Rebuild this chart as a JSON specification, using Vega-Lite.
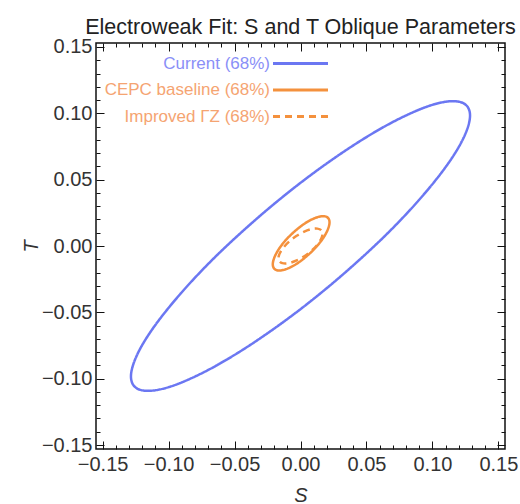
{
  "$schema": "https://vega.github.io/schema/vega-lite/v6.json",
  "width": 409,
  "height": 406,
  "autosize": {"type": "none"},
  "padding": {"left": 96, "top": 43, "right": 15, "bottom": 55},
  "background": "#ffffff",
  "title": {
    "text": "Electroweak Fit: S and T Oblique Parameters",
    "font": "Liberation Sans",
    "fontSize": 21.5,
    "fontWeight": "normal",
    "color": "#222222",
    "anchor": "middle",
    "baseline": "alphabetic",
    "offset": -19
  },
  "config": {
    "view": {"stroke": "#111111", "strokeWidth": 1.5},
    "font": "Liberation Sans"
  },
  "data": {
    "values": [
      {"series": "Current (68%)", "i": 0, "S": 0.1285, "T": 0.0983},
      {"series": "Current (68%)", "i": 1, "S": 0.1265, "T": 0.1051},
      {"series": "Current (68%)", "i": 2, "S": 0.1208, "T": 0.1086},
      {"series": "Current (68%)", "i": 3, "S": 0.1113, "T": 0.1089},
      {"series": "Current (68%)", "i": 4, "S": 0.0984, "T": 0.1059},
      {"series": "Current (68%)", "i": 5, "S": 0.0826, "T": 0.0996},
      {"series": "Current (68%)", "i": 6, "S": 0.0643, "T": 0.0904},
      {"series": "Current (68%)", "i": 7, "S": 0.0439, "T": 0.0783},
      {"series": "Current (68%)", "i": 8, "S": 0.0223, "T": 0.0639},
      {"series": "Current (68%)", "i": 9, "S": 0.0, "T": 0.0476},
      {"series": "Current (68%)", "i": 10, "S": -0.0223, "T": 0.0298},
      {"series": "Current (68%)", "i": 11, "S": -0.0439, "T": 0.0111},
      {"series": "Current (68%)", "i": 12, "S": -0.0643, "T": -0.0079},
      {"series": "Current (68%)", "i": 13, "S": -0.0826, "T": -0.0267},
      {"series": "Current (68%)", "i": 14, "S": -0.0984, "T": -0.0447},
      {"series": "Current (68%)", "i": 15, "S": -0.1113, "T": -0.0613},
      {"series": "Current (68%)", "i": 16, "S": -0.1208, "T": -0.0761},
      {"series": "Current (68%)", "i": 17, "S": -0.1265, "T": -0.0885},
      {"series": "Current (68%)", "i": 18, "S": -0.1285, "T": -0.0983},
      {"series": "Current (68%)", "i": 19, "S": -0.1265, "T": -0.1051},
      {"series": "Current (68%)", "i": 20, "S": -0.1208, "T": -0.1086},
      {"series": "Current (68%)", "i": 21, "S": -0.1113, "T": -0.1089},
      {"series": "Current (68%)", "i": 22, "S": -0.0984, "T": -0.1059},
      {"series": "Current (68%)", "i": 23, "S": -0.0826, "T": -0.0996},
      {"series": "Current (68%)", "i": 24, "S": -0.0643, "T": -0.0904},
      {"series": "Current (68%)", "i": 25, "S": -0.0439, "T": -0.0783},
      {"series": "Current (68%)", "i": 26, "S": -0.0223, "T": -0.0639},
      {"series": "Current (68%)", "i": 27, "S": 0.0, "T": -0.0476},
      {"series": "Current (68%)", "i": 28, "S": 0.0223, "T": -0.0298},
      {"series": "Current (68%)", "i": 29, "S": 0.0439, "T": -0.0111},
      {"series": "Current (68%)", "i": 30, "S": 0.0643, "T": 0.0079},
      {"series": "Current (68%)", "i": 31, "S": 0.0826, "T": 0.0267},
      {"series": "Current (68%)", "i": 32, "S": 0.0984, "T": 0.0447},
      {"series": "Current (68%)", "i": 33, "S": 0.1113, "T": 0.0613},
      {"series": "Current (68%)", "i": 34, "S": 0.1208, "T": 0.0761},
      {"series": "Current (68%)", "i": 35, "S": 0.1265, "T": 0.0885},
      {"series": "CEPC baseline (68%)", "i": 0, "S": 0.0220, "T": 0.0178},
      {"series": "CEPC baseline (68%)", "i": 1, "S": 0.0207, "T": 0.0213},
      {"series": "CEPC baseline (68%)", "i": 2, "S": 0.0170, "T": 0.0225},
      {"series": "CEPC baseline (68%)", "i": 3, "S": 0.0113, "T": 0.0212},
      {"series": "CEPC baseline (68%)", "i": 4, "S": 0.0042, "T": 0.0176},
      {"series": "CEPC baseline (68%)", "i": 5, "S": -0.0032, "T": 0.0121},
      {"series": "CEPC baseline (68%)", "i": 6, "S": -0.0103, "T": 0.0054},
      {"series": "CEPC baseline (68%)", "i": 7, "S": -0.0160, "T": -0.0017},
      {"series": "CEPC baseline (68%)", "i": 8, "S": -0.0197, "T": -0.0084},
      {"series": "CEPC baseline (68%)", "i": 9, "S": -0.0210, "T": -0.0138},
      {"series": "CEPC baseline (68%)", "i": 10, "S": -0.0197, "T": -0.0173},
      {"series": "CEPC baseline (68%)", "i": 11, "S": -0.0160, "T": -0.0185},
      {"series": "CEPC baseline (68%)", "i": 12, "S": -0.0103, "T": -0.0172},
      {"series": "CEPC baseline (68%)", "i": 13, "S": -0.0032, "T": -0.0136},
      {"series": "CEPC baseline (68%)", "i": 14, "S": 0.0042, "T": -0.0081},
      {"series": "CEPC baseline (68%)", "i": 15, "S": 0.0113, "T": -0.0014},
      {"series": "CEPC baseline (68%)", "i": 16, "S": 0.0170, "T": 0.0057},
      {"series": "CEPC baseline (68%)", "i": 17, "S": 0.0207, "T": 0.0124},
      {"series": "Improved ΓZ (68%)", "i": 0, "S": 0.0167, "T": 0.0092},
      {"series": "Improved ΓZ (68%)", "i": 1, "S": 0.0157, "T": 0.0119},
      {"series": "Improved ΓZ (68%)", "i": 2, "S": 0.0128, "T": 0.0131},
      {"series": "Improved ΓZ (68%)", "i": 3, "S": 0.0084, "T": 0.0128},
      {"series": "Improved ΓZ (68%)", "i": 4, "S": 0.0029, "T": 0.0109},
      {"series": "Improved ΓZ (68%)", "i": 5, "S": -0.0029, "T": 0.0077},
      {"series": "Improved ΓZ (68%)", "i": 6, "S": -0.0084, "T": 0.0035},
      {"series": "Improved ΓZ (68%)", "i": 7, "S": -0.0128, "T": -0.0010},
      {"series": "Improved ΓZ (68%)", "i": 8, "S": -0.0157, "T": -0.0055},
      {"series": "Improved ΓZ (68%)", "i": 9, "S": -0.0167, "T": -0.0092},
      {"series": "Improved ΓZ (68%)", "i": 10, "S": -0.0157, "T": -0.0119},
      {"series": "Improved ΓZ (68%)", "i": 11, "S": -0.0128, "T": -0.0131},
      {"series": "Improved ΓZ (68%)", "i": 12, "S": -0.0084, "T": -0.0128},
      {"series": "Improved ΓZ (68%)", "i": 13, "S": -0.0029, "T": -0.0109},
      {"series": "Improved ΓZ (68%)", "i": 14, "S": 0.0029, "T": -0.0077},
      {"series": "Improved ΓZ (68%)", "i": 15, "S": 0.0084, "T": -0.0035},
      {"series": "Improved ΓZ (68%)", "i": 16, "S": 0.0128, "T": 0.0010},
      {"series": "Improved ΓZ (68%)", "i": 17, "S": 0.0157, "T": 0.0055}
    ]
  },
  "resolve": {"axis": {"x": "independent", "y": "independent"}},
  "layer": [
    {
      "mark": {"type": "line", "interpolate": "cardinal-closed", "strokeWidth": 2.5},
      "encoding": {
        "x": {
          "field": "S", "type": "quantitative",
          "scale": {"domain": [-0.155, 0.155], "nice": false, "zero": false},
          "axis": {
            "orient": "bottom",
            "title": "S",
            "values": [-0.15, -0.14, -0.13, -0.12, -0.11, -0.1, -0.09, -0.08, -0.07, -0.06, -0.05, -0.04, -0.03, -0.02, -0.01, 0, 0.01, 0.02, 0.03, 0.04, 0.05, 0.06, 0.07, 0.08, 0.09, 0.1, 0.11, 0.12, 0.13, 0.14, 0.15],
            "labelExpr": "abs(round(datum.value*100)) % 5 == 0 ? format(datum.value, '.2f') : ''",
            "tickSize": {"condition": {"test": "abs(round(datum.value*100)) % 5 == 0", "value": -8}, "value": -4},
            "tickColor": "#111111",
            "tickWidth": 1,
            "grid": false,
            "domain": false,
            "labelFlush": false,
            "labelOverlap": false,
            "labelFont": "Liberation Sans",
            "labelFontSize": 20,
            "labelColor": "#333333",
            "labelPadding": 13,
            "titleFont": "Liberation Sans",
            "titleFontSize": 20,
            "titleFontStyle": "italic",
            "titleFontWeight": "normal",
            "titleColor": "#333333",
            "titlePadding": 7
          }
        },
        "y": {
          "field": "T", "type": "quantitative",
          "scale": {"domain": [-0.153, 0.153], "nice": false, "zero": false},
          "axis": {
            "orient": "left",
            "title": "T",
            "values": [-0.15, -0.14, -0.13, -0.12, -0.11, -0.1, -0.09, -0.08, -0.07, -0.06, -0.05, -0.04, -0.03, -0.02, -0.01, 0, 0.01, 0.02, 0.03, 0.04, 0.05, 0.06, 0.07, 0.08, 0.09, 0.1, 0.11, 0.12, 0.13, 0.14, 0.15],
            "labelExpr": "abs(round(datum.value*100)) % 5 == 0 ? format(datum.value, '.2f') : ''",
            "tickSize": {"condition": {"test": "abs(round(datum.value*100)) % 5 == 0", "value": -8}, "value": -4},
            "tickColor": "#111111",
            "tickWidth": 1,
            "grid": false,
            "domain": false,
            "labelFlush": false,
            "labelOverlap": false,
            "labelFont": "Liberation Sans",
            "labelFontSize": 20,
            "labelColor": "#333333",
            "labelPadding": 12,
            "titleFont": "Liberation Sans",
            "titleFontSize": 20,
            "titleFontStyle": "italic",
            "titleFontWeight": "normal",
            "titleColor": "#333333",
            "titlePadding": 0
          }
        },
        "order": {"field": "i", "type": "quantitative"},
        "color": {
          "field": "series", "type": "nominal",
          "scale": {
            "domain": ["Current (68%)", "CEPC baseline (68%)", "Improved ΓZ (68%)"],
            "range": ["#6b77f2", "#f4913d", "#f4913d"]
          },
          "legend": {
            "orient": "none", "legendX": 196, "legendY": 12,
            "title": null,
            "symbolType": "M-5,0H5", "symbolSize": 121, "symbolStrokeWidth": 3,
            "labelAlign": "right", "labelOffset": -39,
            "labelFont": "Liberation Sans", "labelFontSize": 17, "labelLimit": 0,
            "rowPadding": 8.5, "padding": 0,
            "encode": {"labels": {"update": {"fill": {"signal": "datum.label == 'Current (68%)' ? '#8a8ff7' : '#f5a472'"}}}}
          }
        },
        "strokeDash": {
          "field": "series", "type": "nominal",
          "scale": {
            "domain": ["Current (68%)", "CEPC baseline (68%)", "Improved ΓZ (68%)"],
            "range": [[1, 0], [1, 0], [7, 5]]
          },
          "legend": {
            "orient": "none", "legendX": 196, "legendY": 12,
            "title": null,
            "symbolType": "M-5,0H5", "symbolSize": 121, "symbolStrokeWidth": 3,
            "labelAlign": "right", "labelOffset": -39,
            "labelFont": "Liberation Sans", "labelFontSize": 17, "labelLimit": 0,
            "rowPadding": 8.5, "padding": 0,
            "encode": {"labels": {"update": {"fill": {"signal": "datum.label == 'Current (68%)' ? '#8a8ff7' : '#f5a472'"}}}}
          }
        }
      }
    },
    {
      "mark": {"type": "point", "opacity": 0},
      "encoding": {
        "x": {
          "field": "S", "type": "quantitative",
          "axis": {
            "orient": "top", "title": null, "labels": false,
            "values": [-0.15, -0.14, -0.13, -0.12, -0.11, -0.1, -0.09, -0.08, -0.07, -0.06, -0.05, -0.04, -0.03, -0.02, -0.01, 0, 0.01, 0.02, 0.03, 0.04, 0.05, 0.06, 0.07, 0.08, 0.09, 0.1, 0.11, 0.12, 0.13, 0.14, 0.15],
            "tickSize": {"condition": {"test": "abs(round(datum.value*100)) % 5 == 0", "value": -8}, "value": -4},
            "tickColor": "#111111", "grid": false, "domain": false
          }
        },
        "y": {
          "field": "T", "type": "quantitative",
          "axis": {
            "orient": "right", "title": null, "labels": false,
            "values": [-0.15, -0.14, -0.13, -0.12, -0.11, -0.1, -0.09, -0.08, -0.07, -0.06, -0.05, -0.04, -0.03, -0.02, -0.01, 0, 0.01, 0.02, 0.03, 0.04, 0.05, 0.06, 0.07, 0.08, 0.09, 0.1, 0.11, 0.12, 0.13, 0.14, 0.15],
            "tickSize": {"condition": {"test": "abs(round(datum.value*100)) % 5 == 0", "value": -8}, "value": -4},
            "tickColor": "#111111", "grid": false, "domain": false
          }
        }
      }
    }
  ]
}
